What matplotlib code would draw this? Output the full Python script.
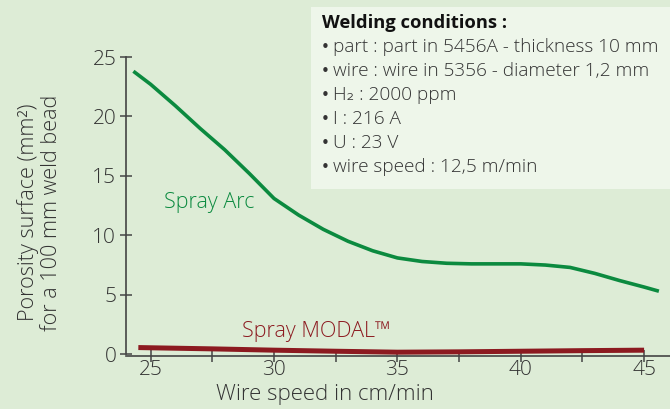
import matplotlib.pyplot as plt
from matplotlib.patches import Rectangle
from matplotlib.ticker import MultipleLocator

plt.rcParams['font.family'] = ['Open Sans', 'DejaVu Sans']
plt.rcParams['font.weight'] = 'light'
plt.rcParams['axes.labelweight'] = 'light'

# Spray Arc curve
arc_speed = [24.3, 25.0, 26.0, 27.0, 28.0, 29.0, 30.0, 31.0, 32.0, 33.0, 34.0,
             35.0, 36.0, 37.0, 38.0, 39.0, 40.0, 41.0, 42.0, 43.0, 44.0, 45.0, 45.6]
arc_porosity = [23.8, 22.7, 20.9, 19.0, 17.2, 15.2, 13.1, 11.7, 10.5, 9.5, 8.7,
                8.1, 7.8, 7.65, 7.6, 7.6, 7.6, 7.5, 7.3, 6.8, 6.2, 5.65, 5.3]

# Spray MODAL curve
modal_speed = [24.5, 27.5, 30.0, 32.5, 35.0, 37.5, 40.0, 42.5, 45.0]
modal_porosity = [0.56, 0.45, 0.34, 0.25, 0.17, 0.2, 0.25, 0.3, 0.34]

conditions = [
    "part : part in 5456A - thickness 10 mm",
    "wire : wire in 5356 - diameter 1,2 mm",
    "H₂ : 2000 ppm",
    "I : 216 A",
    "U : 23 V",
    "wire speed : 12,5 m/min",
]

bg = '#ddecd6'
green = '#0b8a3f'
red = '#8c1a20'
txt = '#333333'

fig = plt.figure(figsize=(6.7, 4.09), dpi=100, facecolor=bg)
ax = fig.add_axes([126 / 670, 1 - 356 / 409, 1 - 126 / 670, (356 - 57) / 409])
ax.set_facecolor(bg)

ax.plot(arc_speed, arc_porosity, color=green, lw=2.6, solid_capstyle='butt')
ax.plot(modal_speed, modal_porosity, color=red, lw=3.6, solid_capstyle='butt')

ax.text(25.53, 12.3, "Spray Arc", color=green, fontsize=15.5, va='baseline')
ax.text(28.7, 1.43, "Spray MODAL™", color=red, fontsize=15.5, va='baseline')

ax.set_xlim(24, 46.05)
ax.set_ylim(-0.15, 25)
ax.xaxis.set_major_locator(MultipleLocator(5))
ax.xaxis.set_minor_locator(MultipleLocator(2.5))
ax.yaxis.set_major_locator(MultipleLocator(5))

for s in ['top', 'right']:
    ax.spines[s].set_visible(False)
for s in ['left', 'bottom']:
    ax.spines[s].set_color('#444444')
    ax.spines[s].set_linewidth(1.2)
ax.spines['left'].set_bounds(0, 25)

ax.tick_params(which='both', direction='inout', length=8, width=1.1, color='#444444',
               labelsize=15, labelcolor=txt)
ax.tick_params(axis='x', pad=-1)
ax.tick_params(axis='y', pad=3)

ax.set_xlabel("Wire speed in cm/min", fontsize=16, color=txt)
ax.xaxis.set_label_coords(0.366, -0.094)
ax.set_ylabel("Porosity surface (mm²)\nfor a 100 mm weld bead", fontsize=15.6, color=txt,
              linespacing=1.12)
ax.yaxis.set_label_coords(-0.117, 0.48)

# conditions box
fig.patches.append(Rectangle((311 / 670, 1 - 189 / 409), 1, 182 / 409,
                             transform=fig.transFigure, facecolor='#eef6ea',
                             edgecolor='none', zorder=0))
fig.text(322 / 670, 1 - 28 / 409, "Welding conditions :", fontsize=13.2,
         fontweight='bold', color='#111111', va='baseline')
for i, line in enumerate(conditions):
    y = 1 - (52 + i * 24) / 409
    fig.text(321 / 670, y, "•", fontsize=11, family='DejaVu Sans',
             fontweight='normal', color=txt, va='baseline')
    fig.text(333 / 670, y, line, fontsize=13.7, color=txt, va='baseline')

fig.savefig("out.png", dpi=100, facecolor=bg)
